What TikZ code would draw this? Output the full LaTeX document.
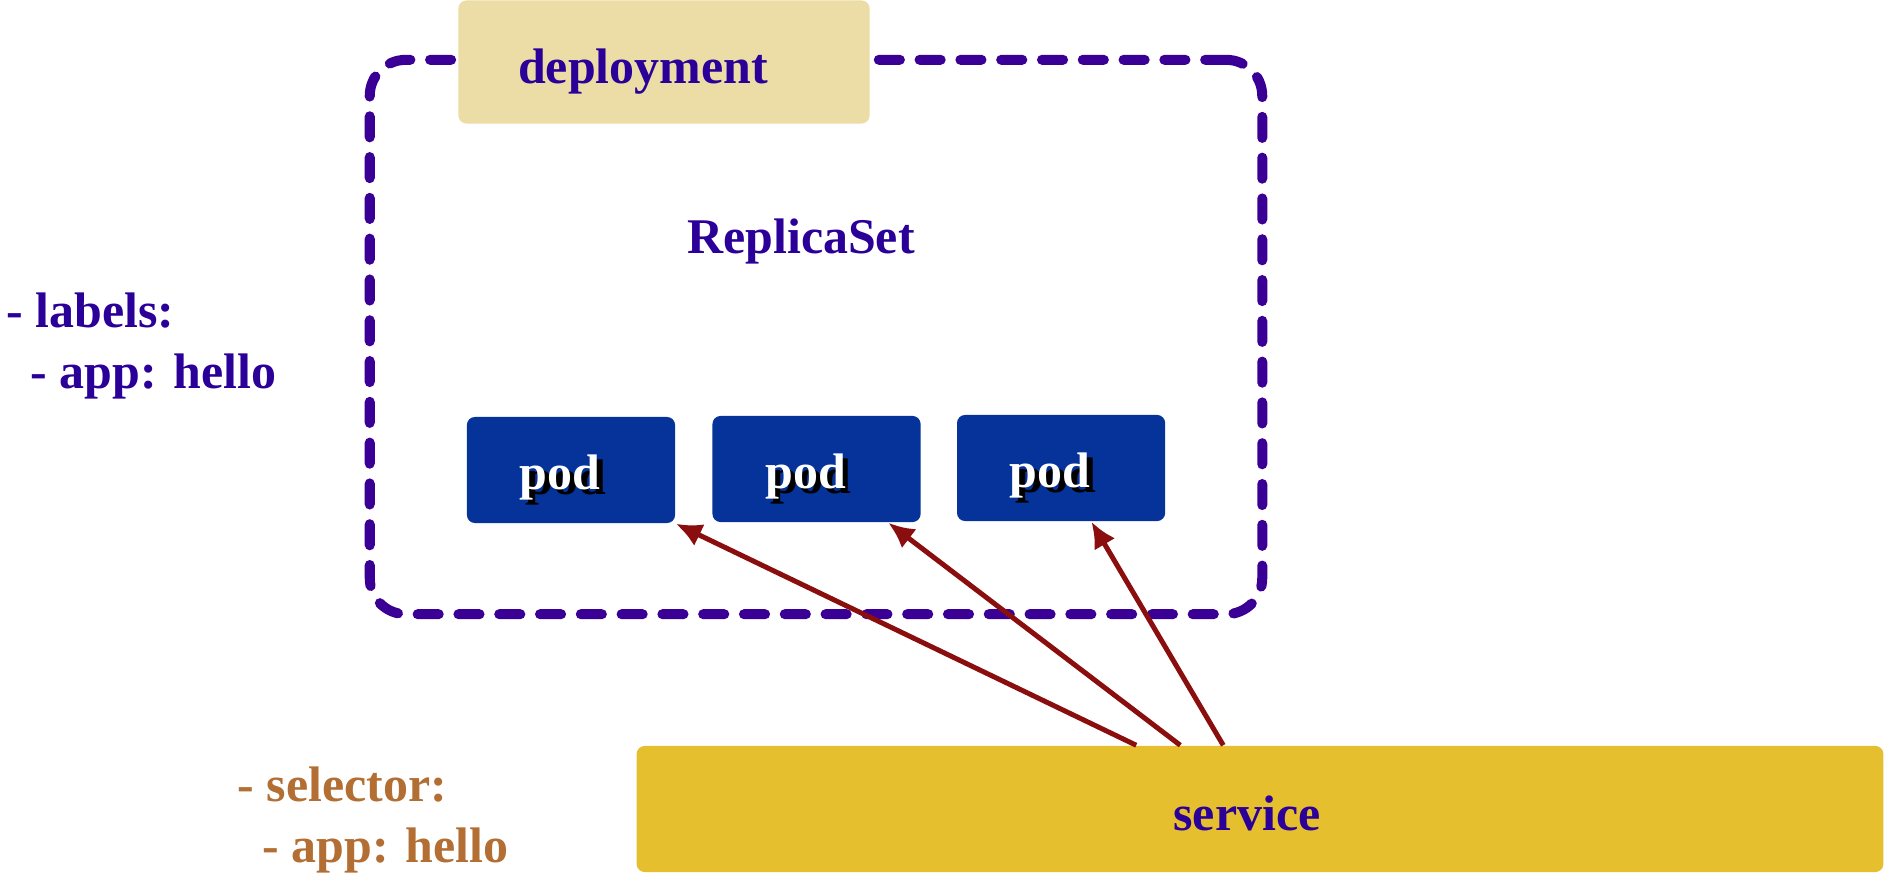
\documentclass[tikz,border=0pt]{standalone}
\usepackage{fontspec}
\setmainfont{Liberation Serif}
\usepackage{xcolor}
\usepackage{tikz}
\usetikzlibrary{
    arrows.meta,
    positioning,
    calc
}

\definecolor{deplfill}{HTML}{EBDDA5}
\definecolor{labelblue}{HTML}{2B0099}
\definecolor{rsdash}{HTML}{3A0096}
\definecolor{podblue}{HTML}{05339A}
\definecolor{svcfill}{HTML}{E6BF2E}
\definecolor{arrowred}{HTML}{8A0E0E}
\definecolor{selbrown}{HTML}{B36E33}

% text with a small drop shadow
\newcommand{\shadowtext}[1]{\makebox[0pt][l]{\kern1.6pt\raisebox{-1.6pt}{\textcolor{black}{#1}}}#1}
% text pushed down (#1) inside its box
\newcommand{\lowtext}[2]{\raisebox{0pt}[\dimexpr\height+#1\relax][\depth]{#2}}

\begin{document}
\begin{tikzpicture}[
  x=0.01cm, y=-0.01cm,
  txt/.style={font=\fontsize{14.2}{17.4}\selectfont\bfseries,
    text=labelblue, align=left, inner sep=0pt},
  rsbox/.style={rectangle, draw=rsdash, line width=2.85pt,
    dash pattern=on 6pt off 5.6pt, line cap=round,
    rounded corners=0.36cm,
    minimum width=8.92cm, minimum height=5.54cm},
  depl/.style={rectangle, rounded corners=0.08cm, fill=deplfill,
    minimum width=4.11cm, minimum height=1.23cm,
    font=\fontsize{14.2}{17.4}\selectfont\bfseries, text=labelblue},
  pod/.style={rectangle, rounded corners=0.08cm, fill=podblue,
    minimum width=2.08cm, minimum height=1.06cm,
    font=\fontsize{14.2}{17.4}\selectfont\bfseries, text=white},
  svc/.style={rectangle, rounded corners=0.08cm, fill=svcfill,
    minimum width=12.46cm, minimum height=1.26cm,
    font=\fontsize{14.2}{17.4}\selectfont\bfseries, text=labelblue},
  arr/.style={-{Latex[length=0.26cm,width=0.24cm]}, line width=1.42pt,
    draw=arrowred}
]

\useasboundingbox (0,0) rectangle (1884,876);

%% ── Deployment / ReplicaSet ──────────────────────────────────────────────────
\node[rsbox] (rs) at (816,337) {};
\node[depl] (depl) at (664,62) {\lowtext{0.2cm}{deployment}\hspace*{0.42cm}};
\node[txt] (rslbl) at (801,241) {ReplicaSet};

%% ── Pods ─────────────────────────────────────────────────────────────────────
\node[pod] (pod1) at (571,470)
    {\lowtext{0.2cm}{\shadowtext{pod}}\hspace*{0.22cm}};
\node[pod, right=0.36cm of pod1, yshift=0.01cm] (pod2)
    {\lowtext{0.2cm}{\shadowtext{pod}}\hspace*{0.22cm}};
\node[pod, right=0.35cm of pod2, yshift=0.01cm] (pod3)
    {\lowtext{0.2cm}{\shadowtext{pod}}\hspace*{0.22cm}};

%% ── Labels ───────────────────────────────────────────────────────────────────
\node[txt, anchor=west] (labels) at (6,346)
    {- labels:\\\hspace*{0.24cm}- app: hello};
\node[txt, anchor=west, text=selbrown] (selector) at (237,820)
    {- selector:\\\hspace*{0.25cm}- app: hello};

%% ── Service ──────────────────────────────────────────────────────────────────
\node[svc] (svc) at (1260,809) {\lowtext{0.08cm}{service}\hspace*{0.26cm}};

\draw[arr] ([xshift=5.00cm]svc.north west) -- (pod1.south east);
\draw[arr] ([xshift=5.44cm]svc.north west) -- ([xshift=-0.33cm]pod2.south east);
\draw[arr] ([xshift=5.87cm]svc.north west) -- ([xshift=1.35cm]pod3.south west);

\end{tikzpicture}
\end{document}
